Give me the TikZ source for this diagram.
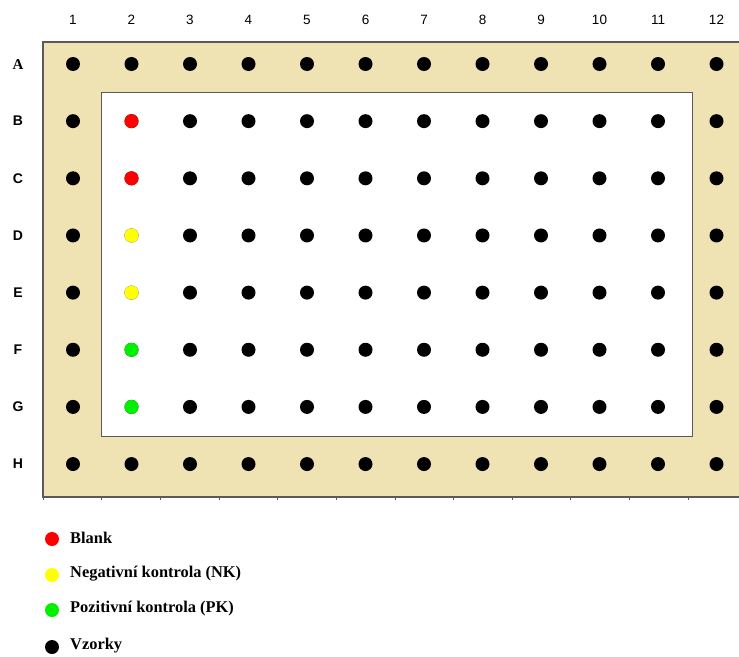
\documentclass[tikz,border=0pt]{standalone}
\usepackage{fontspec}
\setmainfont{Liberation Serif}
\setsansfont{Liberation Sans}
\definecolor{plate}{RGB}{239,227,180}
\definecolor{edge}{RGB}{90,90,90}
\definecolor{wred}{RGB}{255,0,0}
\definecolor{wyellow}{RGB}{255,255,0}
\definecolor{wgreen}{RGB}{0,240,0}
\begin{document}
\begin{tikzpicture}[x=1pt,y=-1pt,
  well/.style={circle,inner sep=0pt,minimum size=14pt,fill=black},
  collab/.style={font=\sffamily\fontsize{13.5}{13.5}\selectfont},
  rowlab/.style={font=\sffamily\bfseries\fontsize{14}{14}\selectfont},
  legtext/.style={font=\bfseries\fontsize{16.4}{16.4}\selectfont,anchor=west,inner sep=0pt},
  tick/.style={draw=edge,line width=0.8pt}]
\useasboundingbox (0,0) rectangle (739,656);
% plate
\fill[plate] (43,42) rectangle (739,497);
\draw[edge,line width=1.2pt] (739,42) -- (43,42) -- (43,497) -- (739,497);
\fill[white] (101,92) rectangle (692,436);
\draw[edge,line width=1pt] (101,92) rectangle (692,436);
% ticks
\foreach \k in {0,...,11} {
  \draw[tick] ({43+58.65*\k},497) -- ({43+58.65*\k},500);
}
% column labels
\foreach \c in {1,...,12} {
  \node[collab] (col\c) at ({73+58.5*(\c-1)},20) {\c};
}
% row labels
\node[font=\bfseries\fontsize{15}{15}\selectfont] (rowA) at (18,65) {A};
\foreach \r [count=\i from 1] in {B,C,D,E,F,G,H} {
  \node[rowlab] (row\r) at (18,{64+57.15*\i}) {\r};
}
% wells
\foreach \r [count=\i from 0] in {A,B,C,D,E,F,G,H} {
  \foreach \c in {1,...,12} {
    \node[well] (w\r\c) at ({73+58.5*(\c-1)},{64+57.15*\i}) {};
  }
}
\node[well,fill=wred] at (wB2) {};
\node[well,fill=wred] at (wC2) {};
\node[well,fill=wyellow] at (wD2) {};
\node[well,fill=wyellow] at (wE2) {};
\node[well,fill=wgreen] at (wF2) {};
\node[well,fill=wgreen] at (wG2) {};
% legend
\node[well,fill=wred] (l1) at (52,539) {};
\node[well,fill=wyellow] (l2) at (52,575) {};
\node[well,fill=wgreen] (l3) at (52,610) {};
\node[well] (l4) at (52,647) {};
\node[legtext] (t1) at (70,538) {Blank};
\node[legtext] (t2) at (70,574) {Negativní kontrola (NK)};
\node[legtext] (t3) at (70,609) {Pozitivní kontrola (PK)};
\node[legtext] (t4) at (70,646) {Vzorky};
\end{tikzpicture}
\end{document}
